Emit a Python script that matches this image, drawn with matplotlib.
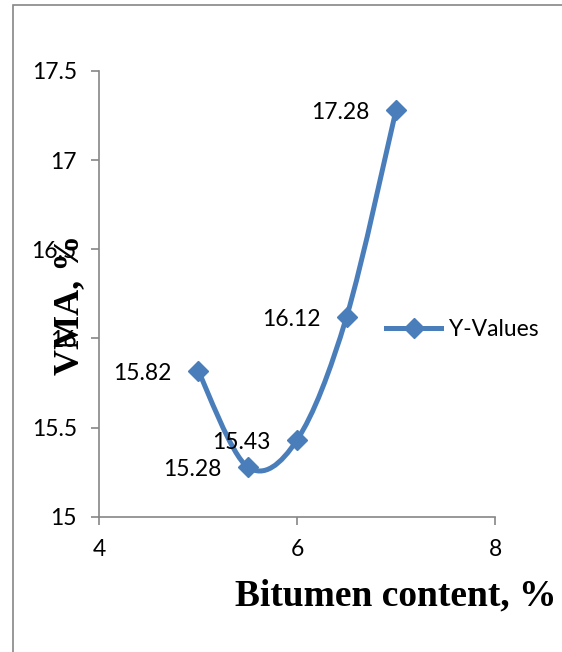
import numpy as np
import matplotlib
matplotlib.use("Agg")
import matplotlib.pyplot as plt
from matplotlib.path import Path
from matplotlib.patches import PathPatch, Rectangle
from matplotlib.lines import Line2D

# bitumen content (%) vs VMA (%)
bitumen = [5.0, 5.5, 6.0, 6.5, 7.0]
vma = [15.82, 15.28, 15.43, 16.12, 17.28]
vma_labels = ["15.82", "15.28", "15.43", "16.12", "17.28"]

x_ticks = [4, 6, 8]
y_ticks = [15, 15.5, 16, 16.5, 17, 17.5]
y_tick_labels = ["15", "15.5", "16", "16.5", "17", "17.5"]

blue = "#4a7ebb"
grey = "#868686"
tick_font = "Lato"
title_font = "Liberation Serif"
fs = 16.5


def smooth_path(xs, ys):
    # catmull-rom style bezier segments, like the office "smoothed line"
    pts = np.column_stack([xs, ys]).astype(float)
    n = len(pts)
    verts = [pts[0]]
    codes = [Path.MOVETO]
    for i in range(n - 1):
        p0 = pts[i - 1] if i > 0 else pts[i]
        p1 = pts[i]
        p2 = pts[i + 1]
        p3 = pts[i + 2] if i + 2 < n else pts[i + 1]
        c1 = p1 + (p2 - p0) / 6.0
        c2 = p2 - (p3 - p1) / 6.0
        verts += [c1, c2, p2]
        codes += [Path.CURVE4] * 3
    return Path(verts, codes)


fig = plt.figure(figsize=(5.62, 6.52), dpi=100)
W, H = 562, 652

# outer chart border
fig.patches.append(Rectangle((12.5 / W, -0.2), 1.2, 1 - 5 / H + 0.2,
                             transform=fig.transFigure, fill=False,
                             edgecolor=grey, linewidth=1.2))

ax = fig.add_axes([99 / W, 1 - 516.7 / H, 396 / W, (516.7 - 71) / H])
ax.set_xlim(4, 8)
ax.set_ylim(15, 17.5)

ax.add_patch(PathPatch(smooth_path(bitumen, vma), facecolor="none",
                       edgecolor=blue, linewidth=3.6, capstyle="round",
                       joinstyle="round", zorder=3))
ax.plot(bitumen, vma, linestyle="none", marker="D", markersize=10.5,
        color=blue, zorder=4)

for x, y, s in zip(bitumen, vma, vma_labels):
    ax.annotate(s, (x, y), xytext=(-19, -2), textcoords="offset points",
                ha="right", va="center", fontsize=fs, family=tick_font)

for side in ["top", "right"]:
    ax.spines[side].set_visible(False)
for side in ["left", "bottom"]:
    ax.spines[side].set_color(grey)
    ax.spines[side].set_linewidth(1.2)

ax.set_xticks(x_ticks)
ax.set_yticks(y_ticks)
ax.set_yticklabels(y_tick_labels)
ax.tick_params(direction="out", length=6, width=1.2, color=grey,
               labelsize=fs, pad=10)
for lab in ax.get_xticklabels() + ax.get_yticklabels():
    lab.set_family(tick_font)

fig.text(395.7 / W, 1 - 596 / H, "Bitumen content, %", ha="center",
         va="center", fontsize=27, fontweight="bold", family=title_font)
fig.text(70 / W, 1 - 305 / H, "VMA, %", ha="center", va="center",
         rotation=90, fontsize=26, fontweight="bold", family=title_font)

handle = Line2D([], [], color=blue, linewidth=3.6, marker="D",
                markersize=10.5)
fig.legend([handle], ["Y-Values"], loc="center left",
           bbox_to_anchor=(386 / W, 1 - 330 / H), frameon=False,
           prop={"family": tick_font, "size": fs}, handlelength=2.4,
           handletextpad=0.35, borderaxespad=0, borderpad=0)

fig.savefig("out.png", dpi=100)
